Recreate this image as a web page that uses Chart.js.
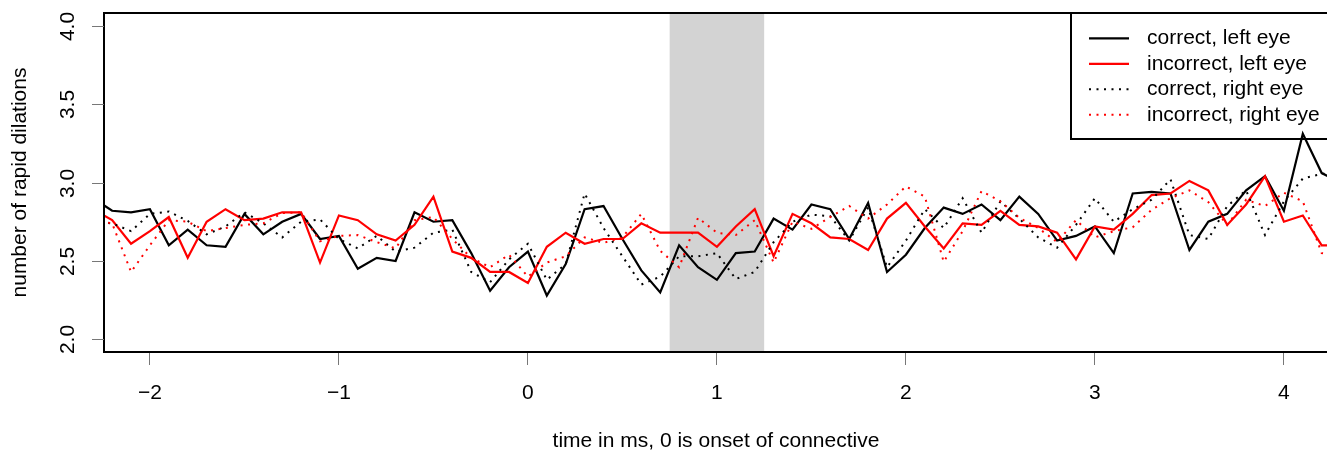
<!DOCTYPE html>
<html>
<head>
<meta charset="utf-8">
<script src="https://cdn.jsdelivr.net/npm/chart.js@4.4.0/dist/chart.umd.min.js"></script>
<style>
  html, body { margin: 0; padding: 0; background: #fff; overflow: hidden; }
  #wrap { width: 1327px; height: 454px; }
</style>
</head>
<body>
<div id="wrap"><canvas id="c" width="1327" height="454"></canvas></div>
<script>
// ---- data ----
const TIME = [-2.3,-2.2,-2.1,-2.0,-1.9,-1.8,-1.7,-1.6,-1.5,-1.4,
  -1.3,-1.2,-1.1,-1.0,-0.9,-0.8,-0.7,-0.6,-0.5,-0.4,
  -0.3,-0.2,-0.1,0.0,0.1,0.2,0.3,0.4,0.5,0.6,
  0.7,0.8,0.9,1.0,1.1,1.2,1.3,1.4,1.5,1.6,
  1.7,1.8,1.9,2.0,2.1,2.2,2.3,2.4,2.5,2.6,
  2.7,2.8,2.9,3.0,3.1,3.2,3.3,3.4,3.5,3.6,
  3.7,3.8,3.9,4.0,4.1,4.2,4.3];

const correctLeft = [2.90,2.82,2.81,2.83,2.60,2.70,2.60,2.59,2.80,2.67,
  2.75,2.80,2.64,2.66,2.45,2.52,2.50,2.81,2.75,2.76,
  2.55,2.31,2.46,2.56,2.28,2.48,2.83,2.85,2.64,2.44,
  2.30,2.60,2.46,2.38,2.55,2.56,2.77,2.70,2.86,2.83,
  2.64,2.87,2.43,2.54,2.71,2.84,2.80,2.86,2.76,2.91,
  2.80,2.63,2.66,2.72,2.55,2.93,2.94,2.93,2.57,2.75,
  2.80,2.95,3.04,2.82,3.31,3.06,3.00];

const incorrectLeft = [2.83,2.76,2.61,2.69,2.78,2.52,2.75,2.83,2.76,2.77,
  2.81,2.81,2.49,2.79,2.76,2.67,2.63,2.73,2.91,2.56,
  2.52,2.43,2.43,2.36,2.59,2.68,2.61,2.64,2.64,2.74,
  2.68,2.68,2.68,2.59,2.72,2.83,2.53,2.80,2.74,2.65,
  2.64,2.57,2.77,2.87,2.72,2.58,2.74,2.73,2.82,2.73,
  2.72,2.68,2.51,2.72,2.70,2.80,2.92,2.93,3.01,2.95,
  2.73,2.86,3.04,2.75,2.79,2.60,2.60];

const correctRight = [2.75,2.74,2.69,2.80,2.815,2.755,2.67,2.72,2.81,2.74,
  2.65,2.75,2.765,2.64,2.58,2.66,2.56,2.585,2.68,2.70,
  2.43,2.365,2.51,2.61,2.38,2.48,2.93,2.71,2.53,2.35,
  2.40,2.53,2.53,2.55,2.385,2.43,2.62,2.75,2.795,2.785,
  2.63,2.84,2.46,2.63,2.83,2.71,2.90,2.68,2.88,2.77,
  2.65,2.585,2.73,2.90,2.75,2.83,2.89,3.02,2.665,2.64,
  2.85,2.95,2.665,2.88,3.025,3.055,3.06];

const incorrectRight = [2.76,2.74,2.43,2.60,2.76,2.75,2.69,2.71,2.73,2.74,
  2.805,2.81,2.625,2.66,2.665,2.62,2.58,2.76,2.78,2.64,
  2.52,2.46,2.54,2.40,2.49,2.53,2.65,2.615,2.65,2.80,
  2.565,2.46,2.775,2.68,2.665,2.76,2.49,2.75,2.705,2.78,
  2.85,2.77,2.86,2.975,2.91,2.495,2.69,2.945,2.88,2.775,
  2.71,2.62,2.76,2.65,2.69,2.715,2.826,2.90,2.95,2.875,
  2.73,2.89,2.85,2.935,2.88,2.55,2.53];

const SERIES_LABELS = ['correct, left eye','incorrect, left eye','correct, right eye','incorrect, right eye'];
const X_TICKS = [-2,-1,0,1,2,3,4];
const Y_TICKS = [2.0,2.5,3.0,3.5,4.0];
const SHADE = [0.75, 1.25];
const X_TITLE = 'time in ms, 0 is onset of connective';
const Y_TITLE = 'number of rapid dilations';

// ---- chart ----
const FONT = '"Liberation Sans", Arial, Helvetica, sans-serif';
const FS = 21;
function pts(ys) { return TIME.map((t, i) => ({ x: t, y: ys[i] })); }
const DOT = [2, 5.5];

const styles = [
  { color: '#000000', dash: [], order: 4, width: 2.2 },
  { color: '#ff0000', dash: [], order: 3, width: 2.2 },
  { color: '#000000', dash: DOT, order: 2, width: 2 },
  { color: '#ff0000', dash: DOT, order: 1, width: 2 }
];
const seriesData = [correctLeft, incorrectLeft, correctRight, incorrectRight];

const datasets = seriesData.map((ys, i) => ({
  label: SERIES_LABELS[i],
  data: pts(ys),
  borderColor: styles[i].color,
  borderWidth: styles[i].width,
  borderDash: styles[i].dash,
  borderCapStyle: 'butt',
  pointRadius: 0,
  fill: false,
  tension: 0,
  order: styles[i].order,
  clip: 0
}));

const decor = {
  id: 'decor',
  beforeDatasetsDraw(chart) {
    const { ctx, chartArea: a, scales: { x } } = chart;
    const x0 = x.getPixelForValue(SHADE[0]);
    const x1 = x.getPixelForValue(SHADE[1]);
    ctx.save();
    ctx.fillStyle = '#d3d3d3';
    ctx.fillRect(x0, a.top, x1 - x0, a.bottom - a.top);
    ctx.restore();
  },
  afterDraw(chart) {
    const { ctx, chartArea: a, scales: { y } } = chart;
    ctx.save();
    // plot box (right side lies outside the picture)
    ctx.strokeStyle = '#000';
    ctx.lineWidth = 2;
    ctx.beginPath();
    ctx.moveTo(a.right + 10, a.top);
    ctx.lineTo(a.left, a.top);
    ctx.lineTo(a.left, a.bottom);
    ctx.lineTo(a.right + 10, a.bottom);
    ctx.stroke();

    // y ticks and rotated labels
    ctx.strokeStyle = '#777';
    ctx.lineWidth = 1;
    ctx.fillStyle = '#000';
    ctx.font = FS + 'px ' + FONT;
    ctx.textAlign = 'center';
    ctx.textBaseline = 'middle';
    Y_TICKS.forEach(v => {
      const py = Math.round(y.getPixelForValue(v)) + 0.5;
      ctx.beginPath();
      ctx.moveTo(a.left - 12, py);
      ctx.lineTo(a.left, py);
      ctx.stroke();
      ctx.save();
      ctx.translate(68, py);
      ctx.rotate(-Math.PI / 2);
      ctx.fillText(v.toFixed(1), 0, 0);
      ctx.restore();
    });

    // axis titles
    ctx.save();
    ctx.translate(20, (a.top + a.bottom) / 2);
    ctx.rotate(-Math.PI / 2);
    ctx.fillText(Y_TITLE, 0, 0);
    ctx.restore();
    ctx.fillText(X_TITLE, 716, 441);

    // legend
    const lx = 1071, ly = 13, lb = 139;
    ctx.strokeStyle = '#000';
    ctx.lineWidth = 2;
    ctx.beginPath();
    ctx.moveTo(1340, ly);
    ctx.lineTo(lx, ly);
    ctx.lineTo(lx, lb);
    ctx.lineTo(1340, lb);
    ctx.stroke();
    const rows = [38.3, 63.8, 89.3, 114.8];
    ctx.textAlign = 'left';
    chart.data.datasets.forEach((ds, i) => {
      const ry = rows[i];
      ctx.strokeStyle = ds.borderColor;
      ctx.lineWidth = ds.borderWidth;
      ctx.setLineDash(ds.borderDash);
      ctx.lineCap = 'butt';
      ctx.beginPath();
      ctx.moveTo(1089, ry);
      ctx.lineTo(1129, ry);
      ctx.stroke();
      ctx.setLineDash([]);
      ctx.fillStyle = '#000';
      ctx.fillText(ds.label, 1147, ry);
    });
    ctx.restore();
  }
};

new Chart(document.getElementById('c'), {
  type: 'line',
  data: { datasets },
  options: {
    responsive: false,
    animation: false,
    devicePixelRatio: 1,
    layout: { padding: { top: 13, right: 0, left: 0, bottom: 0 } },
    plugins: { legend: { display: false }, tooltip: { enabled: false } },
    scales: {
      x: {
        type: 'linear',
        min: -2.243,
        max: 4.228,
        afterBuildTicks: s => { s.ticks = X_TICKS.map(v => ({ value: v })); },
        afterFit: s => { s.height = 102; },
        grid: { drawOnChartArea: false, drawTicks: true, tickLength: 13, color: '#777', lineWidth: 1 },
        border: { display: false },
        ticks: {
          autoSkip: false, maxRotation: 0, minRotation: 0,
          padding: 16, color: '#000',
          font: { family: FONT, size: FS },
          callback: v => (v < 0 ? '\u2212' + Math.abs(v) : String(v))
        }
      },
      y: {
        type: 'linear',
        min: 1.92,
        max: 4.08,
        afterBuildTicks: s => { s.ticks = Y_TICKS.map(v => ({ value: v })); },
        afterFit: s => { s.width = 104; },
        grid: { display: false },
        border: { display: false },
        ticks: { display: false }
      }
    }
  },
  plugins: [decor]
});
</script>
</body>
</html>
